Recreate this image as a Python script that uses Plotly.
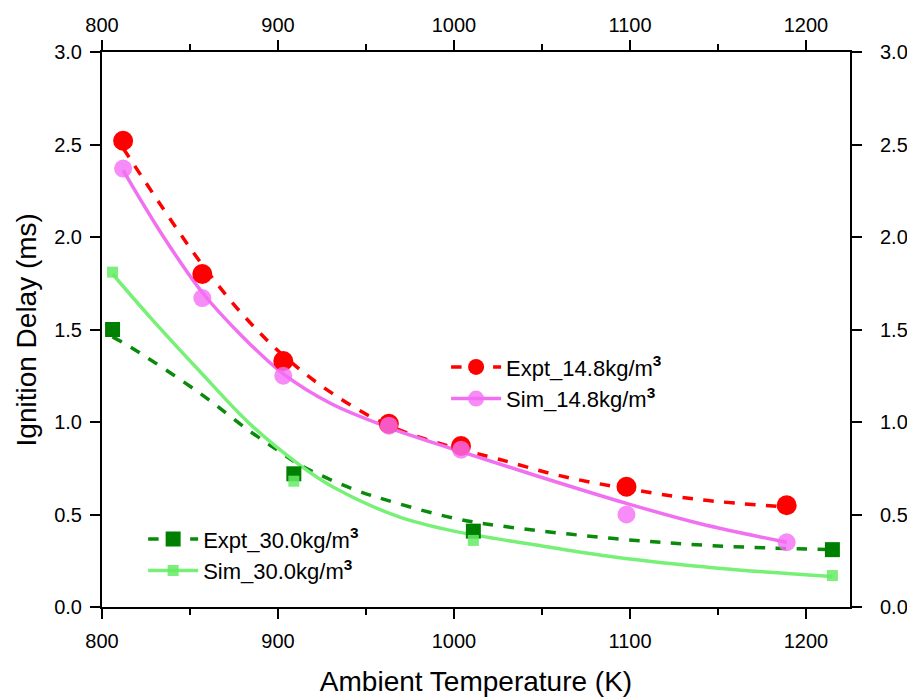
import plotly.graph_objects as go

# ---- Data ----
# measured / simulated points
T_expt148 = [812, 857, 903, 963, 1004, 1098, 1189]
tau_expt148 = [2.52, 1.80, 1.33, 0.99, 0.87, 0.65, 0.55]
T_sim148 = [812, 857, 903, 963, 1004, 1098, 1189]
tau_sim148 = [2.37, 1.67, 1.25, 0.98, 0.85, 0.50, 0.35]
T_expt30 = [806, 909, 1011, 1215]
tau_expt30 = [1.50, 0.72, 0.41, 0.31]
T_sim30 = [806, 909, 1011, 1215]
tau_sim30 = [1.81, 0.68, 0.36, 0.17]

# fitted curves
T_fit_expt148 = [812, 835, 857, 880, 903, 930, 963, 997, 1025, 1060, 1098, 1140, 1189]
tau_fit_expt148 = [2.48, 2.15, 1.85, 1.58, 1.36, 1.16, 0.98, 0.87, 0.80, 0.71, 0.64, 0.58, 0.54]
T_fit_sim148 = [812, 835, 857, 880, 903, 930, 963, 1004, 1050, 1098, 1140, 1189]
tau_fit_sim148 = [2.36, 2.00, 1.70, 1.46, 1.26, 1.10, 0.97, 0.84, 0.70, 0.56, 0.45, 0.35]
T_fit_expt30 = [806, 817, 855, 884, 901, 912, 942, 968, 1000, 1025, 1091, 1150, 1215]
tau_fit_expt30 = [1.46, 1.40, 1.16, 0.95, 0.84, 0.77, 0.64, 0.56, 0.48, 0.44, 0.37, 0.33, 0.31]
T_fit_sim30 = [806, 827, 855, 884, 912, 931, 968, 1000, 1050, 1091, 1150, 1215]
tau_fit_sim30 = [1.80, 1.57, 1.28, 0.99, 0.77, 0.65, 0.49, 0.41, 0.33, 0.27, 0.21, 0.165]

x_ticks = [800, 900, 1000, 1100, 1200]
y_ticks = [0.0, 0.5, 1.0, 1.5, 2.0, 2.5, 3.0]

names = ["Expt_14.8kg/m", "Sim_14.8kg/m", "Expt_30.0kg/m", "Sim_30.0kg/m"]

FONT = "Liberation Sans, Arial, sans-serif"
sup3 = "<sup><b>3</b></sup>"

styles = [
    dict(line=dict(color="#FF0000", width=3.5, dash="dash"),
         marker=dict(symbol="circle", size=20, color="#FF0000"), legend="legend"),
    dict(line=dict(color="#F070F0", width=3.5),
         marker=dict(symbol="circle", size=18, color="rgba(245,110,245,0.8)"), legend="legend"),
    dict(line=dict(color="#0A8A0A", width=3.5, dash="dash"),
         marker=dict(symbol="square", size=15, color="#008000"), legend="legend2"),
    dict(line=dict(color="#77F077", width=3.5),
         marker=dict(symbol="square", size=11, color="rgba(100,235,100,0.85)"), legend="legend2"),
]
points = [(T_expt148, tau_expt148), (T_sim148, tau_sim148), (T_expt30, tau_expt30), (T_sim30, tau_sim30)]
fits = [(T_fit_expt148, tau_fit_expt148), (T_fit_sim148, tau_fit_sim148),
        (T_fit_expt30, tau_fit_expt30), (T_fit_sim30, tau_fit_sim30)]

fig = go.Figure()
# fitted lines
for (fx, fy), st in zip(fits, styles):
    fig.add_trace(go.Scatter(x=fx, y=fy, mode="lines", showlegend=False, hoverinfo="skip",
                             line=dict(st["line"], shape="spline", smoothing=1.0)))
# data points
for (px, py), st, nm in zip(points, styles, names):
    fig.add_trace(go.Scatter(x=px, y=py, mode="markers", name=nm, showlegend=False,
                             marker=st["marker"]))
# legend entries (line + marker)
for st, nm in zip(styles, names):
    fig.add_trace(go.Scatter(x=[None], y=[None], mode="lines+markers", name=nm + sup3,
                             legend=st["legend"], line=st["line"], marker=st["marker"]))
# invisible trace to anchor secondary axes
fig.add_trace(go.Scatter(x=[800], y=[0], xaxis="x2", yaxis="y2", mode="markers",
                         marker=dict(opacity=0), showlegend=False, hoverinfo="skip"))

axis_common = dict(showline=True, linecolor="black", linewidth=2, ticks="outside",
                   ticklen=10, tickwidth=2, tickcolor="black", showgrid=False, zeroline=False,
                   automargin=False,
                   tickfont=dict(family=FONT, size=20, color="black"))
minor_x = dict(ticks="outside", ticklen=6, tickwidth=2, tickcolor="black", dtick=50, tick0=800)

fig.update_layout(
    width=907, height=697,
    margin=dict(l=102, r=57, t=52, b=90),
    paper_bgcolor="white", plot_bgcolor="white",
    font=dict(family=FONT, color="black"),
    xaxis=dict(range=[800, 1225], tickvals=x_ticks, minor=minor_x, ticklabelstandoff=5,
               title=dict(text="Ambient Temperature (K)", font=dict(family=FONT, size=28), standoff=22),
               **axis_common),
    yaxis=dict(range=[0, 3.0], tickvals=y_ticks, tickformat=".1f", ticklabelstandoff=4,
               **axis_common),
    xaxis2=dict(range=[800, 1225], tickvals=x_ticks, overlaying="x", side="top", anchor="y",
                minor=minor_x, **axis_common),
    yaxis2=dict(range=[0, 3.0], tickvals=y_ticks, tickformat=".1f", overlaying="y", side="right",
                anchor="x", ticklabelstandoff=14, **axis_common),
    legend=dict(x=0.46, y=0.47, xanchor="left", yanchor="top", bgcolor="rgba(0,0,0,0)",
                font=dict(family=FONT, size=22), itemwidth=50, tracegroupgap=0),
    legend2=dict(x=0.055, y=0.16, xanchor="left", yanchor="top", bgcolor="rgba(0,0,0,0)",
                 font=dict(family=FONT, size=22), itemwidth=50, tracegroupgap=0),
    annotations=[dict(text="Ignition Delay (ms)", textangle=-90, xref="paper", yref="paper",
                      x=-0.1003, y=0.5, xanchor="center", yanchor="middle", showarrow=False,
                      font=dict(family=FONT, size=28, color="black"))],
)

fig.write_html("out.html")
